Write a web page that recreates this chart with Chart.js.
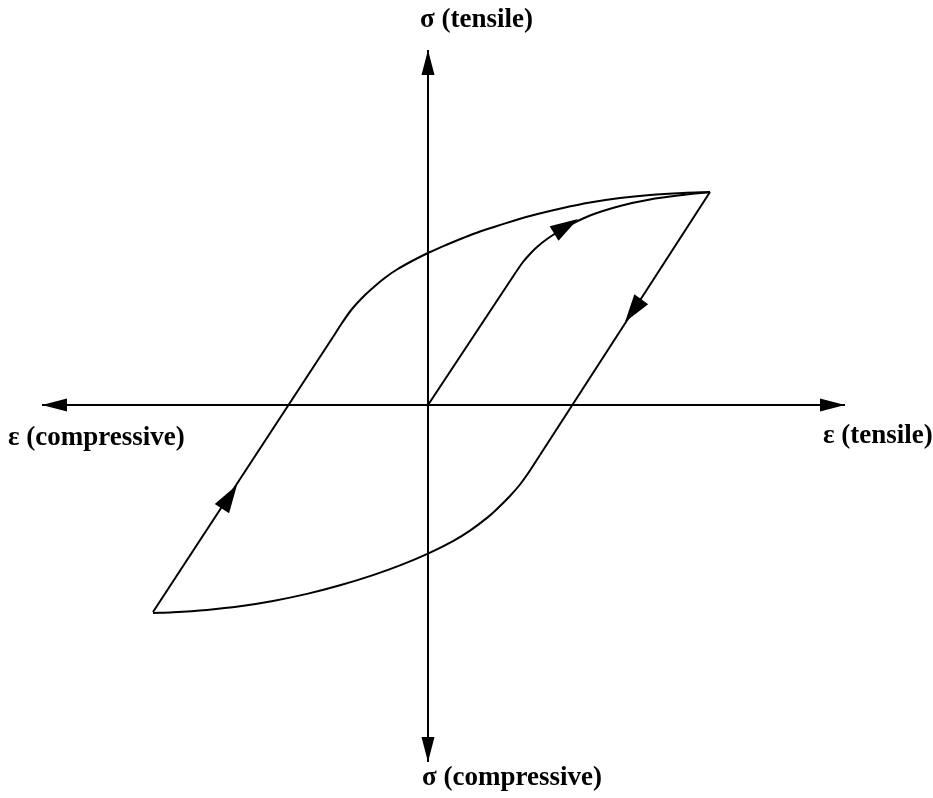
<!DOCTYPE html>
<html>
<head>
<meta charset="utf-8">
<script src="https://cdn.jsdelivr.net/npm/chart.js@4.4.0/dist/chart.umd.min.js"></script>
<style>
  html, body { margin: 0; padding: 0; background: #fff; }
  #wrap { width: 933px; height: 798px; position: relative; }
</style>
</head>
<body>
<div id="wrap"><canvas id="loop"></canvas></div>
<script>
// strain (x) / stress (y) in arbitrary units, origin where the axes cross
const axisStrain = [{x: -3.86, y: 0}, {x: 4.17, y: 0}];
const axisStress = [{x: 0, y: 3.55}, {x: 0, y: -3.57}];

// first loading from zero: straight elastic part, then hardening curve
const virginLine = [{x: 0, y: 0}, {x: 0.88, y: 1.33}];
const virginCurve = [
  {x: 0.88, y: 1.33}, {x: 0.95, y: 1.43}, {x: 1.02, y: 1.51}, {x: 1.09, y: 1.58},
  {x: 1.19, y: 1.66}, {x: 1.29, y: 1.725}, {x: 1.42, y: 1.80}, {x: 1.62, y: 1.895},
  {x: 1.92, y: 1.99}, {x: 2.22, y: 2.055}, {x: 2.55, y: 2.10}, {x: 2.82, y: 2.13}
];

// reloading from compressive tip up to tensile tip
const upperLine = [{x: -2.75, y: -2.07}, {x: -0.95, y: 0.68}];
const upperCurve = [
  {x: -0.95, y: 0.68}, {x: -0.86, y: 0.82}, {x: -0.76, y: 0.96}, {x: -0.65, y: 1.08},
  {x: -0.53, y: 1.19}, {x: -0.42, y: 1.28}, {x: -0.31, y: 1.355}, {x: -0.15, y: 1.445},
  {x: 0.01, y: 1.525}, {x: 0.18, y: 1.60}, {x: 0.35, y: 1.67}, {x: 0.52, y: 1.735},
  {x: 0.69, y: 1.79}, {x: 1.02, y: 1.89}, {x: 1.35, y: 1.97}, {x: 1.62, y: 2.025},
  {x: 1.92, y: 2.07}, {x: 2.22, y: 2.10}, {x: 2.55, y: 2.12}, {x: 2.82, y: 2.13}
];

// unloading from tensile tip down to compressive tip
const lowerLine = [{x: 2.82, y: 2.13}, {x: 1.12, y: -0.50}];
const lowerCurve = [
  {x: -2.75, y: -2.08}, {x: -2.55, y: -2.073}, {x: -2.21, y: -2.049}, {x: -1.88, y: -2.013},
  {x: -1.55, y: -1.96}, {x: -1.21, y: -1.889}, {x: -0.88, y: -1.803}, {x: -0.55, y: -1.701},
  {x: -0.28, y: -1.604}, {x: 0, y: -1.486}, {x: 0.25, y: -1.361}, {x: 0.42, y: -1.256},
  {x: 0.59, y: -1.129}, {x: 0.70, y: -1.03}, {x: 0.82, y: -0.91}, {x: 0.92, y: -0.795},
  {x: 1.02, y: -0.655}, {x: 1.12, y: -0.50}
];

// arrowheads: [base, tip]
const axisArrows = [
  [{x: -3.61, y: 0}, {x: -3.86, y: 0}],
  [{x: 3.94, y: 0}, {x: 4.17, y: 0}],
  [{x: 0, y: 3.30}, {x: 0, y: 3.55}],
  [{x: 0, y: -3.32}, {x: 0, y: -3.57}]
];
const pathArrows = [
  [{x: 1.27, y: 1.72}, {x: 1.50, y: 1.86}],
  [{x: 2.12, y: 1.04}, {x: 1.97, y: 0.83}],
  [{x: -2.07, y: -1.05}, {x: -1.91, y: -0.80}]
];

const axisLabels = ['σ (tensile)', 'σ (compressive)', 'ε (compressive)', 'ε (tensile)'];
const labelAnchors = [
  {x: -0.08, y: 3.78}, {x: -0.06, y: -3.80}, {x: -4.20, y: -0.40}, {x: 3.95, y: -0.38}
];

function lineSet(data, curved) {
  return {
    data: data,
    borderColor: '#000',
    borderWidth: 2,
    pointRadius: 0,
    fill: false,
    tension: curved ? 0.35 : 0
  };
}

const extras = {
  id: 'extras',
  afterDatasetsDraw(chart) {
    const ctx = chart.ctx;
    const sx = chart.scales.x, sy = chart.scales.y;
    const head = (pair, len, half) => {
      const bx = sx.getPixelForValue(pair[0].x), by = sy.getPixelForValue(pair[0].y);
      const tx = sx.getPixelForValue(pair[1].x), ty = sy.getPixelForValue(pair[1].y);
      const a = Math.atan2(ty - by, tx - bx);
      const cx = tx - len * Math.cos(a), cy = ty - len * Math.sin(a);
      ctx.beginPath();
      ctx.moveTo(tx, ty);
      ctx.lineTo(cx + half * Math.sin(a), cy - half * Math.cos(a));
      ctx.lineTo(cx - half * Math.sin(a), cy + half * Math.cos(a));
      ctx.closePath();
      ctx.fill();
    };
    ctx.save();
    ctx.fillStyle = '#000';
    axisArrows.forEach(p => head(p, 25, 6.5));
    pathArrows.forEach(p => head(p, 28, 8.5));

    ctx.font = 'bold 27px "Liberation Serif", "Times New Roman", serif';
    ctx.textAlign = 'left';
    ctx.textBaseline = 'alphabetic';
    axisLabels.forEach((t, i) => {
      ctx.fillText(t, sx.getPixelForValue(labelAnchors[i].x), sy.getPixelForValue(labelAnchors[i].y));
    });
    ctx.restore();
  }
};

new Chart(document.getElementById('loop'), {
  type: 'line',
  data: {
    datasets: [
      lineSet(axisStrain, false),
      lineSet(axisStress, false),
      lineSet(virginLine, false),
      lineSet(virginCurve, true),
      lineSet(upperLine, false),
      lineSet(upperCurve, true),
      lineSet(lowerLine, false),
      lineSet(lowerCurve, true)
    ]
  },
  options: {
    responsive: true,
    maintainAspectRatio: false,
    animation: false,
    layout: { padding: 0 },
    plugins: { legend: { display: false }, tooltip: { enabled: false } },
    scales: {
      x: { type: 'linear', display: false, min: -4.28, max: 5.05 },
      y: { type: 'linear', display: false, min: -3.93, max: 4.05 }
    }
  },
  plugins: [extras]
});
</script>
</body>
</html>
